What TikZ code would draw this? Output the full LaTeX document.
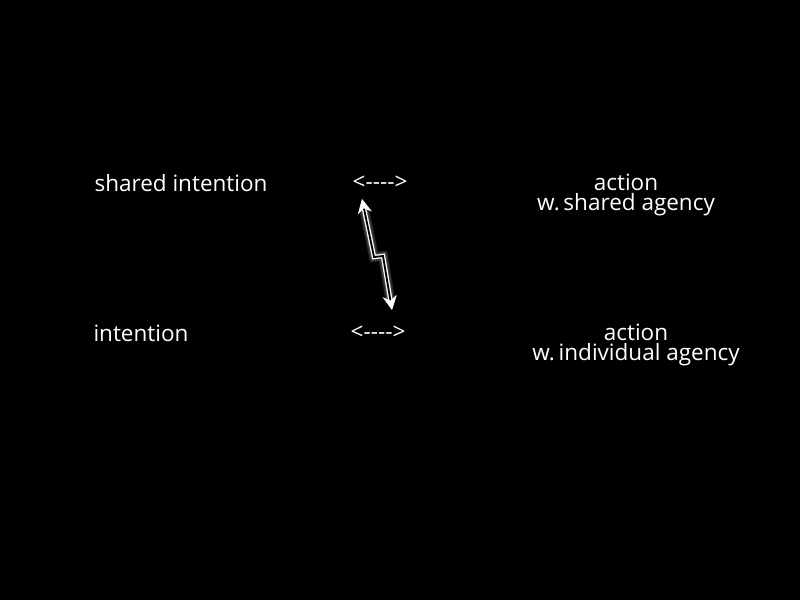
\documentclass[tikz,border=0pt]{standalone}
\usepackage{fontspec}
\setmainfont{Open Sans}
\usepackage{tikz}
\usetikzlibrary{positioning,calc,arrows.meta}

\begin{document}
\begin{tikzpicture}[>=Stealth,x=0.025cm,y=-0.025cm]
\tikzstyle{T}=[text=white,inner sep=1pt,align=center,font=\fontsize{16}{13.8}\selectfont]
\tikzstyle{glow}=[draw=white,line join=miter,opacity=0.14]
\fill[black] (0,0) rectangle (800,600);
\useasboundingbox (0,0) rectangle (800,600);
\node[T] (si) at (181,183) {shared intention};
\node[T] (tarr) at (380,183) {<{-}{-}{-}{-}>};
\node[T] (sa) at (626,195) {action\\w.\,shared agency};
\node[T] (in) at (141,333) {intention};
\node[T] (barr) at (378,333) {<{-}{-}{-}{-}>};
\node[T] (ia) at (636,345) {action\\w.\,individual agency};
% lightning arrow
\coordinate (b1) at (362,199);
\coordinate (k1) at (374,257);
\coordinate (k2) at (383,256);
\coordinate (b2) at (392,310);
\foreach \w in {7,5,3.5}
  \draw[glow,line width=\w pt,{Stealth[length=10pt,width=10pt]}-{Stealth[length=10pt,width=10pt]}] (b1) -- (k1) -- (k2) -- (b2);
\draw[white,line width=0.9pt,double=black,double distance=1.3pt,line join=miter,
  {Stealth[length=10pt,width=10pt]}-{Stealth[length=10pt,width=10pt]}] (b1) -- (k1) -- (k2) -- (b2);
\end{tikzpicture}
\end{document}
